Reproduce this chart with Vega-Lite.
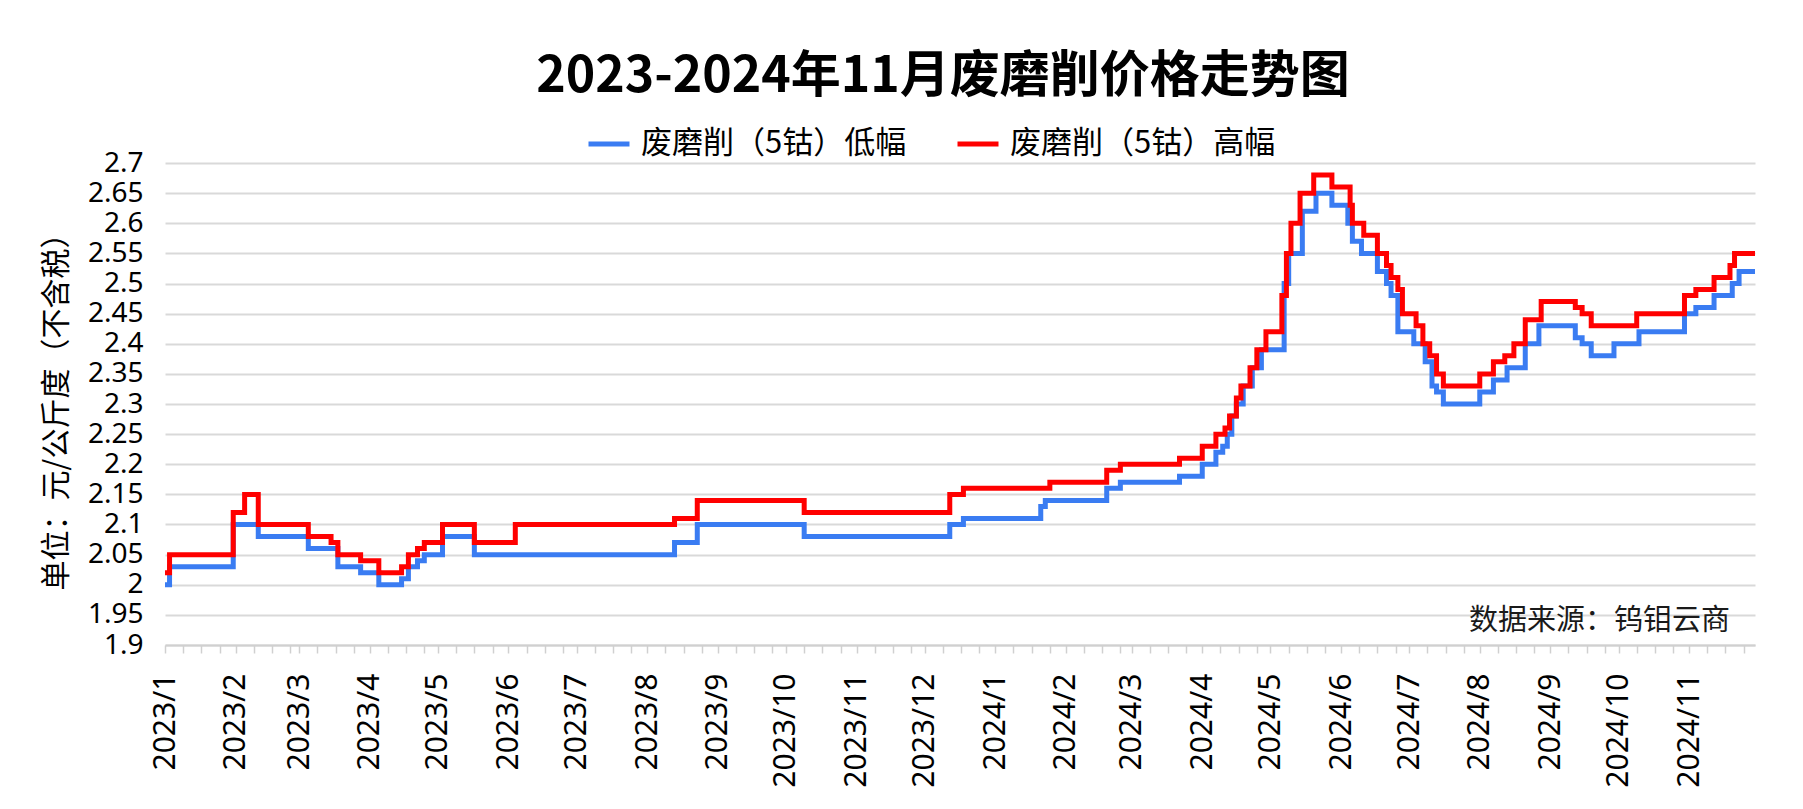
{
  "$schema": "https://vega.github.io/schema/vega-lite/v6.json",
  "width": 1590,
  "height": 482,
  "autosize": {"type": "none"},
  "padding": {"left": 165, "top": 163, "right": 48, "bottom": 164},
  "background": "#ffffff",
  "title": {
    "text": "2023-2024年11月废磨削价格走势图",
    "font": "Noto Sans CJK SC",
    "fontSize": 50,
    "fontWeight": "bold",
    "color": "#000000",
    "anchor": "middle",
    "dx": -17,
    "offset": 19
  },
  "config": {
    "view": {"stroke": null},
    "legend": {"padding": 0}
  },
  "resolve": {"axis": {"x": "independent", "y": "independent"}},
  "layer": [
    {
      "data": {
        "values": [
          {"date": "2023-01-01", "series": "废磨削（5钴）低幅", "price": 2.00},
          {"date": "2023-01-03", "series": "废磨削（5钴）低幅", "price": 2.03},
          {"date": "2023-01-31", "series": "废磨削（5钴）低幅", "price": 2.10},
          {"date": "2023-02-11", "series": "废磨削（5钴）低幅", "price": 2.08},
          {"date": "2023-03-05", "series": "废磨削（5钴）低幅", "price": 2.06},
          {"date": "2023-03-18", "series": "废磨削（5钴）低幅", "price": 2.03},
          {"date": "2023-03-28", "series": "废磨削（5钴）低幅", "price": 2.02},
          {"date": "2023-04-05", "series": "废磨削（5钴）低幅", "price": 2.00},
          {"date": "2023-04-15", "series": "废磨削（5钴）低幅", "price": 2.01},
          {"date": "2023-04-18", "series": "废磨削（5钴）低幅", "price": 2.03},
          {"date": "2023-04-22", "series": "废磨削（5钴）低幅", "price": 2.04},
          {"date": "2023-04-25", "series": "废磨削（5钴）低幅", "price": 2.05},
          {"date": "2023-05-03", "series": "废磨削（5钴）低幅", "price": 2.08},
          {"date": "2023-05-17", "series": "废磨削（5钴）低幅", "price": 2.05},
          {"date": "2023-08-13", "series": "废磨削（5钴）低幅", "price": 2.07},
          {"date": "2023-08-23", "series": "废磨削（5钴）低幅", "price": 2.10},
          {"date": "2023-10-09", "series": "废磨削（5钴）低幅", "price": 2.08},
          {"date": "2023-12-12", "series": "废磨削（5钴）低幅", "price": 2.10},
          {"date": "2023-12-18", "series": "废磨削（5钴）低幅", "price": 2.11},
          {"date": "2024-01-21", "series": "废磨削（5钴）低幅", "price": 2.13},
          {"date": "2024-01-23", "series": "废磨削（5钴）低幅", "price": 2.14},
          {"date": "2024-02-19", "series": "废磨削（5钴）低幅", "price": 2.16},
          {"date": "2024-02-25", "series": "废磨削（5钴）低幅", "price": 2.17},
          {"date": "2024-03-22", "series": "废磨削（5钴）低幅", "price": 2.18},
          {"date": "2024-04-01", "series": "废磨削（5钴）低幅", "price": 2.20},
          {"date": "2024-04-07", "series": "废磨削（5钴）低幅", "price": 2.22},
          {"date": "2024-04-10", "series": "废磨削（5钴）低幅", "price": 2.23},
          {"date": "2024-04-12", "series": "废磨削（5钴）低幅", "price": 2.25},
          {"date": "2024-04-14", "series": "废磨削（5钴）低幅", "price": 2.28},
          {"date": "2024-04-16", "series": "废磨削（5钴）低幅", "price": 2.30},
          {"date": "2024-04-19", "series": "废磨削（5钴）低幅", "price": 2.33},
          {"date": "2024-04-23", "series": "废磨削（5钴）低幅", "price": 2.36},
          {"date": "2024-04-27", "series": "废磨削（5钴）低幅", "price": 2.39},
          {"date": "2024-05-07", "series": "废磨削（5钴）低幅", "price": 2.50},
          {"date": "2024-05-09", "series": "废磨削（5钴）低幅", "price": 2.55},
          {"date": "2024-05-15", "series": "废磨削（5钴）低幅", "price": 2.62},
          {"date": "2024-05-21", "series": "废磨削（5钴）低幅", "price": 2.65},
          {"date": "2024-05-28", "series": "废磨削（5钴）低幅", "price": 2.63},
          {"date": "2024-06-04", "series": "废磨削（5钴）低幅", "price": 2.60},
          {"date": "2024-06-06", "series": "废磨削（5钴）低幅", "price": 2.57},
          {"date": "2024-06-10", "series": "废磨削（5钴）低幅", "price": 2.55},
          {"date": "2024-06-17", "series": "废磨削（5钴）低幅", "price": 2.52},
          {"date": "2024-06-21", "series": "废磨削（5钴）低幅", "price": 2.50},
          {"date": "2024-06-23", "series": "废磨削（5钴）低幅", "price": 2.48},
          {"date": "2024-06-26", "series": "废磨削（5钴）低幅", "price": 2.42},
          {"date": "2024-07-03", "series": "废磨削（5钴）低幅", "price": 2.40},
          {"date": "2024-07-08", "series": "废磨削（5钴）低幅", "price": 2.37},
          {"date": "2024-07-11", "series": "废磨削（5钴）低幅", "price": 2.33},
          {"date": "2024-07-13", "series": "废磨削（5钴）低幅", "price": 2.32},
          {"date": "2024-07-16", "series": "废磨削（5钴）低幅", "price": 2.30},
          {"date": "2024-08-01", "series": "废磨削（5钴）低幅", "price": 2.32},
          {"date": "2024-08-07", "series": "废磨削（5钴）低幅", "price": 2.34},
          {"date": "2024-08-13", "series": "废磨削（5钴）低幅", "price": 2.36},
          {"date": "2024-08-21", "series": "废磨削（5钴）低幅", "price": 2.40},
          {"date": "2024-08-27", "series": "废磨削（5钴）低幅", "price": 2.43},
          {"date": "2024-09-12", "series": "废磨削（5钴）低幅", "price": 2.41},
          {"date": "2024-09-15", "series": "废磨削（5钴）低幅", "price": 2.40},
          {"date": "2024-09-19", "series": "废磨削（5钴）低幅", "price": 2.38},
          {"date": "2024-09-29", "series": "废磨削（5钴）低幅", "price": 2.40},
          {"date": "2024-10-10", "series": "废磨削（5钴）低幅", "price": 2.42},
          {"date": "2024-10-30", "series": "废磨削（5钴）低幅", "price": 2.45},
          {"date": "2024-11-04", "series": "废磨削（5钴）低幅", "price": 2.46},
          {"date": "2024-11-12", "series": "废磨削（5钴）低幅", "price": 2.48},
          {"date": "2024-11-20", "series": "废磨削（5钴）低幅", "price": 2.50},
          {"date": "2024-11-23", "series": "废磨削（5钴）低幅", "price": 2.52},
          {"date": "2024-11-30", "series": "废磨削（5钴）低幅", "price": 2.52},
          {"date": "2023-01-01", "series": "废磨削（5钴）高幅", "price": 2.02},
          {"date": "2023-01-03", "series": "废磨削（5钴）高幅", "price": 2.05},
          {"date": "2023-01-31", "series": "废磨削（5钴）高幅", "price": 2.12},
          {"date": "2023-02-05", "series": "废磨削（5钴）高幅", "price": 2.15},
          {"date": "2023-02-11", "series": "废磨削（5钴）高幅", "price": 2.10},
          {"date": "2023-03-05", "series": "废磨削（5钴）高幅", "price": 2.08},
          {"date": "2023-03-15", "series": "废磨削（5钴）高幅", "price": 2.07},
          {"date": "2023-03-18", "series": "废磨削（5钴）高幅", "price": 2.05},
          {"date": "2023-03-28", "series": "废磨削（5钴）高幅", "price": 2.04},
          {"date": "2023-04-05", "series": "废磨削（5钴）高幅", "price": 2.02},
          {"date": "2023-04-15", "series": "废磨削（5钴）高幅", "price": 2.03},
          {"date": "2023-04-18", "series": "废磨削（5钴）高幅", "price": 2.05},
          {"date": "2023-04-22", "series": "废磨削（5钴）高幅", "price": 2.06},
          {"date": "2023-04-25", "series": "废磨削（5钴）高幅", "price": 2.07},
          {"date": "2023-05-03", "series": "废磨削（5钴）高幅", "price": 2.10},
          {"date": "2023-05-17", "series": "废磨削（5钴）高幅", "price": 2.07},
          {"date": "2023-06-04", "series": "废磨削（5钴）高幅", "price": 2.10},
          {"date": "2023-08-13", "series": "废磨削（5钴）高幅", "price": 2.11},
          {"date": "2023-08-23", "series": "废磨削（5钴）高幅", "price": 2.14},
          {"date": "2023-10-09", "series": "废磨削（5钴）高幅", "price": 2.12},
          {"date": "2023-12-12", "series": "废磨削（5钴）高幅", "price": 2.15},
          {"date": "2023-12-18", "series": "废磨削（5钴）高幅", "price": 2.16},
          {"date": "2024-01-25", "series": "废磨削（5钴）高幅", "price": 2.17},
          {"date": "2024-02-19", "series": "废磨削（5钴）高幅", "price": 2.19},
          {"date": "2024-02-25", "series": "废磨削（5钴）高幅", "price": 2.20},
          {"date": "2024-03-22", "series": "废磨削（5钴）高幅", "price": 2.21},
          {"date": "2024-04-01", "series": "废磨削（5钴）高幅", "price": 2.23},
          {"date": "2024-04-07", "series": "废磨削（5钴）高幅", "price": 2.25},
          {"date": "2024-04-11", "series": "废磨削（5钴）高幅", "price": 2.26},
          {"date": "2024-04-13", "series": "废磨削（5钴）高幅", "price": 2.28},
          {"date": "2024-04-16", "series": "废磨削（5钴）高幅", "price": 2.31},
          {"date": "2024-04-18", "series": "废磨削（5钴）高幅", "price": 2.33},
          {"date": "2024-04-22", "series": "废磨削（5钴）高幅", "price": 2.36},
          {"date": "2024-04-25", "series": "废磨削（5钴）高幅", "price": 2.39},
          {"date": "2024-04-29", "series": "废磨削（5钴）高幅", "price": 2.42},
          {"date": "2024-05-06", "series": "废磨削（5钴）高幅", "price": 2.48},
          {"date": "2024-05-08", "series": "废磨削（5钴）高幅", "price": 2.55},
          {"date": "2024-05-10", "series": "废磨削（5钴）高幅", "price": 2.60},
          {"date": "2024-05-14", "series": "废磨削（5钴）高幅", "price": 2.65},
          {"date": "2024-05-20", "series": "废磨削（5钴）高幅", "price": 2.68},
          {"date": "2024-05-28", "series": "废磨削（5钴）高幅", "price": 2.66},
          {"date": "2024-06-05", "series": "废磨削（5钴）高幅", "price": 2.63},
          {"date": "2024-06-06", "series": "废磨削（5钴）高幅", "price": 2.60},
          {"date": "2024-06-11", "series": "废磨削（5钴）高幅", "price": 2.58},
          {"date": "2024-06-17", "series": "废磨削（5钴）高幅", "price": 2.55},
          {"date": "2024-06-21", "series": "废磨削（5钴）高幅", "price": 2.53},
          {"date": "2024-06-23", "series": "废磨削（5钴）高幅", "price": 2.51},
          {"date": "2024-06-26", "series": "废磨削（5钴）高幅", "price": 2.49},
          {"date": "2024-06-28", "series": "废磨削（5钴）高幅", "price": 2.45},
          {"date": "2024-07-04", "series": "废磨削（5钴）高幅", "price": 2.43},
          {"date": "2024-07-07", "series": "废磨削（5钴）高幅", "price": 2.40},
          {"date": "2024-07-10", "series": "废磨削（5钴）高幅", "price": 2.38},
          {"date": "2024-07-13", "series": "废磨削（5钴）高幅", "price": 2.35},
          {"date": "2024-07-16", "series": "废磨削（5钴）高幅", "price": 2.33},
          {"date": "2024-08-01", "series": "废磨削（5钴）高幅", "price": 2.35},
          {"date": "2024-08-07", "series": "废磨削（5钴）高幅", "price": 2.37},
          {"date": "2024-08-12", "series": "废磨削（5钴）高幅", "price": 2.38},
          {"date": "2024-08-16", "series": "废磨削（5钴）高幅", "price": 2.40},
          {"date": "2024-08-21", "series": "废磨削（5钴）高幅", "price": 2.44},
          {"date": "2024-08-28", "series": "废磨削（5钴）高幅", "price": 2.47},
          {"date": "2024-09-12", "series": "废磨削（5钴）高幅", "price": 2.46},
          {"date": "2024-09-15", "series": "废磨削（5钴）高幅", "price": 2.45},
          {"date": "2024-09-19", "series": "废磨削（5钴）高幅", "price": 2.43},
          {"date": "2024-10-09", "series": "废磨削（5钴）高幅", "price": 2.45},
          {"date": "2024-10-30", "series": "废磨削（5钴）高幅", "price": 2.48},
          {"date": "2024-11-04", "series": "废磨削（5钴）高幅", "price": 2.49},
          {"date": "2024-11-12", "series": "废磨削（5钴）高幅", "price": 2.51},
          {"date": "2024-11-19", "series": "废磨削（5钴）高幅", "price": 2.53},
          {"date": "2024-11-21", "series": "废磨削（5钴）高幅", "price": 2.55},
          {"date": "2024-11-30", "series": "废磨削（5钴）高幅", "price": 2.55}
        ]
      },
      "mark": {"type": "line", "interpolate": "step-after", "strokeWidth": 5, "strokeJoin": "miter"},
      "encoding": {
        "x": {
          "field": "date",
          "type": "temporal",
          "scale": {"type": "utc", "domain": [{"year": 2023, "month": 1, "date": 1, "utc": true}, {"year": 2024, "month": 11, "date": 30, "utc": true}]},
          "axis": {
            "title": null,
            "format": "%Y/%-m",
            "tickCount": "month",
            "labelAngle": 270,
            "labelAlign": "right",
            "labelBaseline": "middle",
            "labelFont": "Noto Sans",
            "labelFontSize": 30,
            "labelColor": "#000000",
            "labelPadding": 28,
            "labelOverlap": false,
            "labelFlush": false,
            "labelBound": false,
            "ticks": false,
            "tickSize": 0,
            "domain": false,
            "grid": false
          }
        },
        "y": {
          "field": "price",
          "type": "quantitative",
          "scale": {"domain": [1.9, 2.7], "zero": false, "nice": false},
          "axis": {
            "title": "单位：元/公斤度（不含税）",
            "titleFont": "Noto Sans CJK SC",
            "titleFontSize": 30,
            "titleFontWeight": "normal",
            "titleColor": "#000000",
            "titlePadding": 16,
            "values": [1.9, 1.95, 2, 2.05, 2.1, 2.15, 2.2, 2.25, 2.3, 2.35, 2.4, 2.45, 2.5, 2.55, 2.6, 2.65, 2.7],
            "format": "~g",
            "labelFont": "Liberation Sans Narrow, Noto Sans",
            "labelFontSize": 28,
            "labelColor": "#000000",
            "labelPadding": 22,
            "labelOverlap": false,
            "labelFlush": false,
            "labelBound": false,
            "ticks": false,
            "tickSize": 0,
            "domain": false,
            "grid": true,
            "gridColor": "#d9d9d9",
            "gridWidth": 2
          }
        },
        "color": {
          "field": "series",
          "type": "nominal",
          "scale": {"domain": ["废磨削（5钴）低幅", "废磨削（5钴）高幅"], "range": ["#3a7cf2", "#ff0000"]},
          "legend": {
            "title": null,
            "orient": "none",
            "legendX": 421,
            "legendY": -42,
            "direction": "horizontal",
            "symbolType": "stroke",
            "symbolSize": 1681,
            "symbolStrokeWidth": 5,
            "labelFont": "Noto Sans CJK SC",
            "labelFontSize": 31,
            "labelColor": "#000000",
            "labelOffset": 9,
            "labelLimit": 0,
            "columnPadding": 40
          }
        }
      }
    },
    {
      "data": {"values": [{"date": "2024-11-19", "price": 1.94, "label": "数据来源：钨钼云商"}]},
      "mark": {"type": "text", "align": "right", "baseline": "middle", "font": "Noto Sans CJK SC", "fontSize": 29, "color": "#1a1a1a"},
      "encoding": {
        "x": {
          "field": "date",
          "type": "temporal",
          "scale": {"type": "utc"},
          "axis": {
            "title": null,
            "orient": "bottom",
            "labels": false,
            "tickCount": {"interval": "day", "step": 8},
            "ticks": true,
            "tickSize": 8,
            "tickColor": "#d0d0d0",
            "tickWidth": 1.5,
            "domain": true,
            "domainColor": "#d0d0d0",
            "domainWidth": 2,
            "grid": false
          }
        },
        "y": {"field": "price", "type": "quantitative", "axis": null},
        "text": {"field": "label"}
      }
    }
  ]
}
